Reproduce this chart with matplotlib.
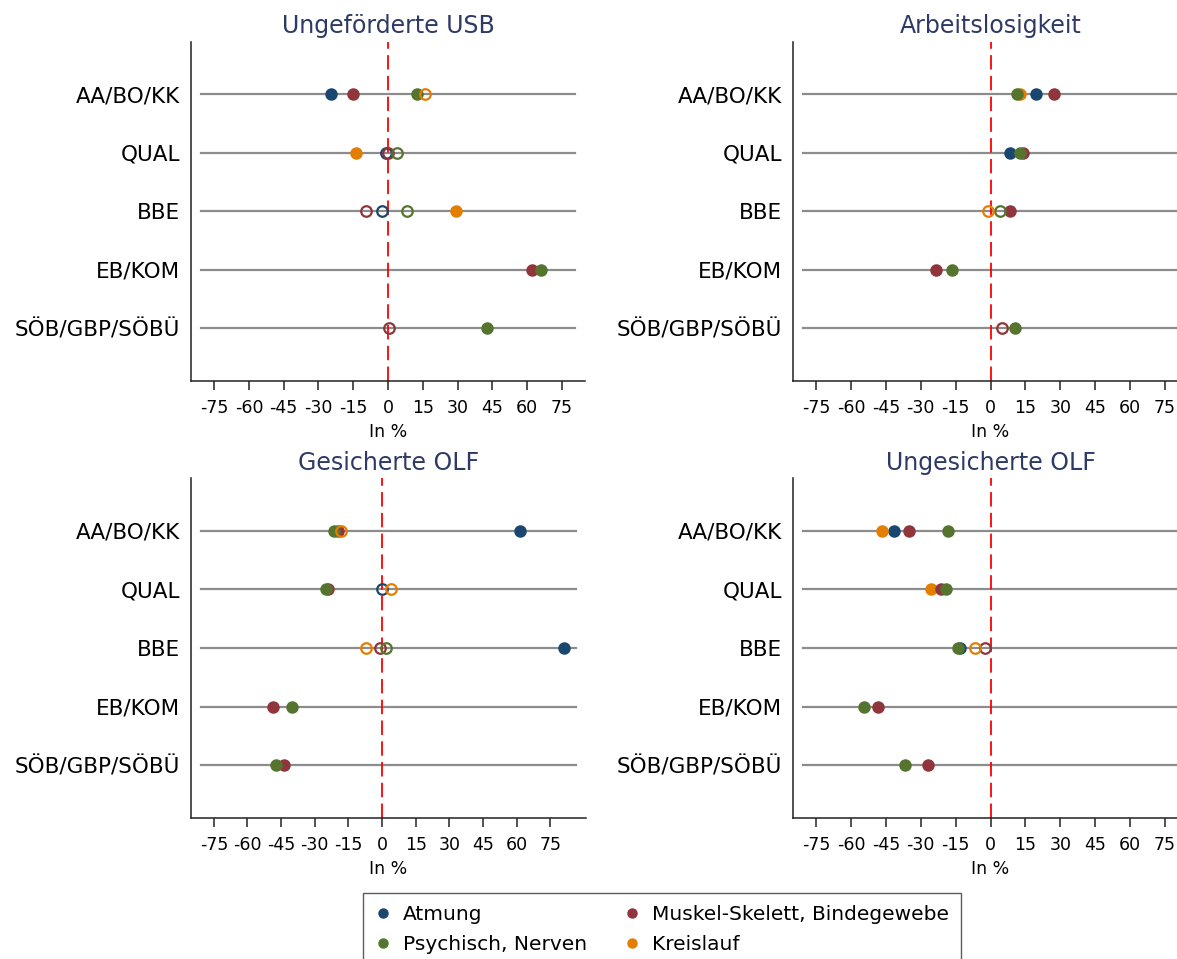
import matplotlib
matplotlib.use("Agg")
import matplotlib.pyplot as plt
from matplotlib.lines import Line2D

plt.rcParams['font.family'] = ['DejaVu Sans']

# categories (rows, top to bottom) and groups
rows = ['AA/BO/KK', 'QUAL', 'BBE', 'EB/KOM', 'SÖB/GBP/SÖBÜ']
groups = ['Atmung', 'Muskel-Skelett, Bindegewebe', 'Psychisch, Nerven', 'Kreislauf']
colors = ['#1a476f', '#90353b', '#55752f', '#e37e00']
titles = ['Ungeförderte USB', 'Arbeitslosigkeit', 'Gesicherte OLF', 'Ungesicherte OLF']
xticks = [-75, -60, -45, -30, -15, 0, 15, 30, 45, 60, 75]

# effects in % per panel, one list per group (None = not shown)
usb_atm = [-24.8, -0.9, -2.6, None, None]
usb_msk = [-14.9, 0.0, -9.6, 62.2, 0.6]
usb_psy = [12.6, 3.7, 8.0, 66.0, 42.7]
usb_krs = [16.0, -13.9, 29.4, None, None]
# 1 = significant (filled), 0 = not significant (hollow)
usb_atm_sig = [1, 0, 0, 0, 0]
usb_msk_sig = [1, 0, 0, 1, 0]
usb_psy_sig = [1, 0, 0, 1, 1]
usb_krs_sig = [0, 1, 1, 0, 0]

al_atm = [19.7, 8.2, None, None, None]
al_msk = [27.4, 13.8, 8.5, -23.6, 4.8]
al_psy = [11.2, 12.5, 4.0, -16.4, 10.4]
al_krs = [12.5, None, -0.9, None, None]
al_atm_sig = [1, 1, 0, 0, 0]
al_msk_sig = [1, 1, 1, 1, 0]
al_psy_sig = [1, 1, 0, 1, 1]
al_krs_sig = [1, 0, 0, 0, 0]

gof_atm = [61.5, 0.0, 81.0, None, None]
gof_msk = [-19.6, -24.3, -1.0, -48.8, -43.6]
gof_psy = [-21.3, -24.8, 1.8, -40.3, -47.2]
gof_krs = [-18.1, 3.9, -7.2, None, None]
gof_atm_sig = [1, 0, 1, 0, 0]
gof_msk_sig = [1, 1, 0, 1, 1]
gof_psy_sig = [1, 1, 0, 1, 1]
gof_krs_sig = [0, 0, 0, 0, 0]

uof_atm = [-41.6, None, -13.1, None, None]
uof_msk = [-35.2, -21.5, -2.4, -48.4, -27.1]
uof_psy = [-18.3, -19.0, -14.1, -54.3, -36.7]
uof_krs = [-46.8, -25.4, -6.8, None, None]
uof_atm_sig = [1, 0, 1, 0, 0]
uof_msk_sig = [1, 1, 0, 1, 1]
uof_psy_sig = [1, 1, 1, 1, 1]
uof_krs_sig = [1, 1, 0, 0, 0]

panel_vals = [
    [usb_atm, usb_msk, usb_psy, usb_krs],
    [al_atm, al_msk, al_psy, al_krs],
    [gof_atm, gof_msk, gof_psy, gof_krs],
    [uof_atm, uof_msk, uof_psy, uof_krs],
]
panel_sig = [
    [usb_atm_sig, usb_msk_sig, usb_psy_sig, usb_krs_sig],
    [al_atm_sig, al_msk_sig, al_psy_sig, al_krs_sig],
    [gof_atm_sig, gof_msk_sig, gof_psy_sig, gof_krs_sig],
    [uof_atm_sig, uof_msk_sig, uof_psy_sig, uof_krs_sig],
]
xlims = [(-85, 85), (-85, 85), (-85.2, 91), (-85, 85)]

W, H = 1177, 959
fig = plt.figure(figsize=(W / 100, H / 100), dpi=100)

# axes boxes in pixels: left, top, right, bottom
boxes = [(191, 41.7, 585, 380.6), (793, 41.7, 1188, 380.6),
         (191, 478, 586, 818), (793, 478, 1188, 818)]

# filled drawing order: blue, orange, red, green
zo = {0: 3, 1: 5, 2: 6, 3: 4}

for p in range(4):
    l, t, r, b = boxes[p]
    ax = fig.add_axes([l / W, 1 - b / H, (r - l) / W, (b - t) / H])
    ypos = list(range(1, len(rows) + 1))
    for y in ypos:
        ax.axhline(y, xmin=0.025, xmax=0.975, color='#8c8c8c', lw=1.6, zorder=1)
    ax.axvline(0, color='red', lw=1.3, dashes=(8, 3.5), zorder=2)
    for g in range(4):
        vals = panel_vals[p][g]
        sig = panel_sig[p][g]
        for i, v in enumerate(vals):
            if v is None:
                continue
            if sig[i]:
                ax.plot(v, ypos[i], 'o', ms=9, color=colors[g], mec=colors[g],
                        mew=0, zorder=zo[g])
            else:
                ax.plot(v, ypos[i], 'o', ms=7.6, mfc='none', mec=colors[g],
                        mew=1.6, zorder=8)
    ax.set_xlim(*xlims[p])
    ax.set_ylim(5.9, 0.1)
    ax.set_yticks(ypos)
    ax.set_yticklabels(rows, fontsize=15.5)
    ax.set_xticks(xticks)
    ax.set_xticklabels([str(x) for x in xticks], fontsize=12.5)
    ax.tick_params(axis='y', length=0, pad=8)
    ax.tick_params(axis='x', length=6.5, width=1.1, pad=6.5, color='#222222')
    for s in ['top', 'right']:
        ax.spines[s].set_visible(False)
    for s in ['left', 'bottom']:
        ax.spines[s].set_color('#222222')
        ax.spines[s].set_linewidth(1.1)
    ax.set_xlabel('In %', fontsize=12.5, labelpad=4.5)
    ax.set_title(titles[p], fontsize=17, color='#2e3a66', pad=6)

# legend goes row-wise: Atmung | Muskel, Psychisch | Kreislauf
order = [0, 2, 1, 3]
handles = [Line2D([], [], marker='o', ls='none', ms=6.5, color=colors[k]) for k in order]
labels = [groups[k] for k in order]
fig.legend(handles, labels, ncol=2, loc='upper left',
           bbox_to_anchor=(363 / W, 1 - 893 / H), borderaxespad=0,
           frameon=True, fancybox=False, edgecolor='#333333', fontsize=14.5,
           handlelength=0.8, handletextpad=0.6, columnspacing=1.8,
           labelspacing=0.55, borderpad=0.6)

fig.savefig('out.png', dpi=100, facecolor='white')
